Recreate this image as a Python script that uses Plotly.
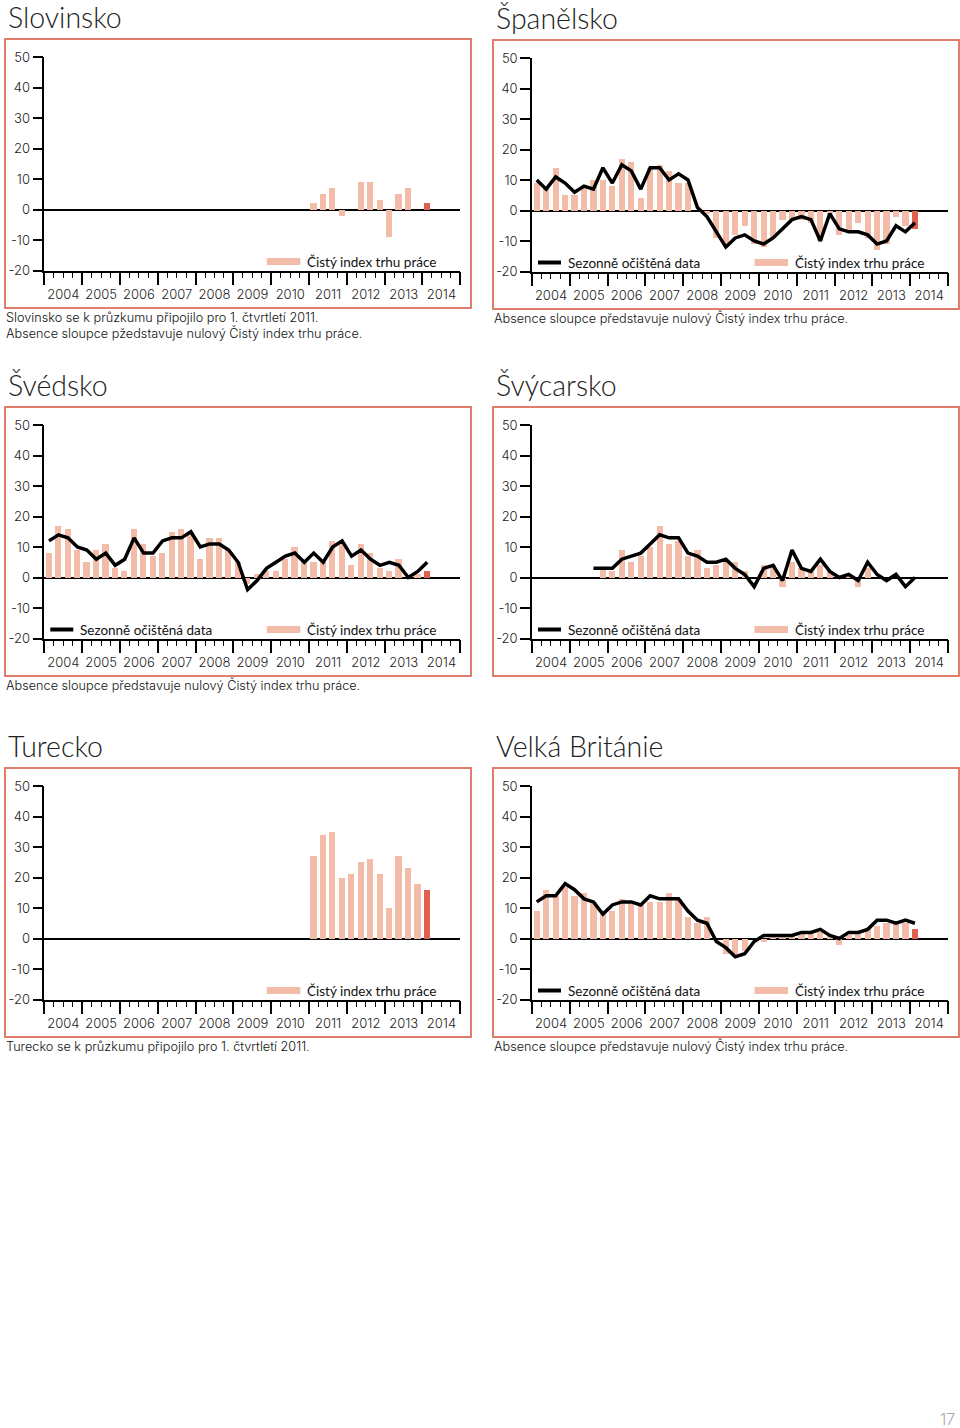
import plotly.graph_objects as go

W, H = 960, 1428

# ---------------- data (quarters 2004Q1 .. 2014Q1) ----------------
YEARS = ["2004", "2005", "2006", "2007", "2008", "2009", "2010", "2011", "2012", "2013", "2014"]
Y_TICKS = [-20, -10, 0, 10, 20, 30, 40, 50]
Y_TICK_TEXT = ["-20", "-10", "0", "10", "20", "30", "40", "50"]
N_Q = 41  # number of quarters with data: 2004Q1 .. 2014Q1

N = None
slovinsko_bars = [N]*28 + [2, 5, 7, -2, 0, 9, 9, 3, -9, 5, 7, 0, 2]

spanelsko_bars = [9, 8, 14, 5, 5, 8, 10, 10, 8, 17, 16, 4, 14, 15, 13, 9, 9, 0, -1, -9,
                  -12, -8, -5, -11, -12, -9, -3, -3, -3, -4, -10, -1, -8, -7, -4, -9,
                  -13, -11, -2, -5, -6]
spanelsko_line = [10, 7, 11, 9, 6, 8, 7, 14, 9, 15, 13, 7, 14, 14, 10, 12, 10, 1, -2, -7,
                  -12, -9, -8, -10, -11, -9, -6, -3, -2, -3, -10, -1, -6, -7, -7, -8,
                  -11, -10, -5, -7, -4]

svedsko_bars = [8, 17, 16, 9, 5, 9, 11, 3, 2, 16, 11, 7, 8, 15, 16, 15, 6, 13, 13, 9,
                5, -2, 1, 2, 2, 6, 10, 5, 5, 5, 12, 11, 4, 11, 8, 3, 2, 6, 0, 1, 2]
svedsko_line = [12, 14, 13, 10, 9, 6, 8, 4, 6, 13, 8, 8, 12, 13, 13, 15, 10, 11, 11, 9,
                5, -4, -1, 3, 5, 7, 8, 5, 8, 5, 10, 12, 7, 9, 6, 4, 5, 4, 0, 2, 5]

svycarsko_bars = [N]*6 + [0, 3, 2, 9, 5, 7, 10, 17, 11, 12, 7, 9, 3, 4, 5, 5, 2, 0,
                          4, 4, -3, 5, 3, 2, 4, 2, 0, 1, -3, 3, 0, 0, 0, 0, 0]
svycarsko_line = [N]*6 + [3, 3, 3, 6, 7, 8, 11, 14, 13, 13, 8, 7, 5, 5, 6, 3, 1, -3,
                          3, 4, -1, 9, 3, 2, 6, 2, 0, 1, -1, 5, 1, -1, 1, -3, 0]

turecko_bars = [N]*28 + [27, 34, 35, 20, 21, 25, 26, 21, 10, 27, 23, 18, 16]

vb_bars = [9, 16, 14, 17, 14, 15, 12, 8, 9, 13, 12, 11, 12, 12, 15, 13, 7, 5, 7, 0,
           -5, -6, -4, 0, -1, 1, 1, 1, 2, 2, 2, 1, -2, 1, 2, 3, 4, 5, 5, 5, 3]
vb_line = [12, 14, 14, 18, 16, 13, 12, 8, 11, 12, 12, 11, 14, 13, 13, 13, 9, 6, 5, -1,
           -3, -6, -5, -1, 1, 1, 1, 1, 2, 2, 3, 1, 0, 2, 2, 3, 6, 6, 5, 6, 5]

# ---------------- styling ----------------
LIGHT = "#f3bca8"
DARK = "#e0604f"
BORDER = "#e27d6e"
TXT = "#222222"
LINE_NAME = "Sezonně očištěná data"
BAR_NAME = "Čistý index trhu práce"
NOTE_ZERO = "Absence sloupce představuje nulový Čistý index trhu práce."

panels = [
    dict(title="Slovinsko", left=True, top=57, bars=slovinsko_bars, line=None,
         notes=["Slovinsko se k průzkumu připojilo pro 1. čtvrtletí 2011.",
                "Absence sloupce pžedstavuje nulový Čistý index trhu práce."]),
    dict(title="Španělsko", left=False, top=58, bars=spanelsko_bars, line=spanelsko_line,
         notes=[NOTE_ZERO]),
    dict(title="Švédsko", left=True, top=425, bars=svedsko_bars, line=svedsko_line,
         notes=[NOTE_ZERO]),
    dict(title="Švýcarsko", left=False, top=425, bars=svycarsko_bars, line=svycarsko_line,
         notes=[]),
    dict(title="Turecko", left=True, top=786, bars=turecko_bars, line=None,
         notes=["Turecko se k průzkumu připojilo pro 1. čtvrtletí 2011."]),
    dict(title="Velká Británie", left=False, top=786, bars=vb_bars, line=vb_line,
         notes=[NOTE_ZERO]),
]

PLOT_W = 416
PLOT_H = 213.5

def px(x):
    return x / W

def py(y):
    return 1 - y / H

fig = go.Figure()
shapes = []
annotations = []
layout = {}

xs = [i + 0.5 for i in range(N_Q)]

for k, p in enumerate(panels, start=1):
    ax0 = 44.3 if p["left"] else 532.0
    bx0 = 5 if p["left"] else 493
    top = p["top"]
    suffix = "" if k == 1 else str(k)

    colors = [LIGHT] * (N_Q - 1) + [DARK]
    fig.add_trace(go.Bar(x=xs, y=p["bars"], width=0.66, marker=dict(color=colors, line=dict(width=0)),
                         xaxis="x" + suffix, yaxis="y" + suffix, showlegend=False))
    if p["line"] is not None:
        fig.add_trace(go.Scatter(x=xs, y=p["line"], mode="lines",
                                 line=dict(color="#000000", width=3.5),
                                 xaxis="x" + suffix, yaxis="y" + suffix, showlegend=False))

    layout["xaxis" + suffix] = dict(
        domain=[px(ax0), px(ax0 + PLOT_W)], anchor="y" + suffix, range=[0, 44],
        tickmode="array", tickvals=list(range(0, 45, 4)), ticktext=YEARS + [""],
        ticks="outside", ticklen=13, tickwidth=1.5, tickcolor="#000",
        ticklabelshift=19, ticklabelstandoff=-2, tickangle=0,
        minor=dict(tickmode="linear", tick0=0, dtick=1, ticks="outside", ticklen=6,
                   tickwidth=1.2, tickcolor="#000"),
        showline=True, linecolor="#000", linewidth=1.5,
        showgrid=False, zeroline=False, fixedrange=True,
        tickfont=dict(family="Inter", size=13, color=TXT, weight=300),
    )
    layout["yaxis" + suffix] = dict(
        domain=[py(top + PLOT_H), py(top)], anchor="x" + suffix, range=[-20, 50],
        tickmode="array", tickvals=Y_TICKS, ticktext=Y_TICK_TEXT,
        ticks="outside", ticklen=10, tickwidth=1.5,
        tickcolor="#000", showline=True, linecolor="#000", linewidth=1.5,
        showgrid=False, zeroline=True, zerolinecolor="#000", zerolinewidth=1.5,
        fixedrange=True,
        tickfont=dict(family="Inter", size=13, color=TXT, weight=300),
    )

    # panel border
    btop = top - 18
    shapes.append(dict(type="rect", xref="paper", yref="paper",
                       x0=px(bx0), x1=px(bx0 + 466), y0=py(btop + 269), y1=py(btop),
                       line=dict(color=BORDER, width=2), fillcolor="rgba(0,0,0,0)"))
    # title
    annotations.append(dict(text=p["title"], x=px(bx0 + 1), y=py(btop - 22), xref="paper", yref="paper",
                            xanchor="left", yanchor="middle", showarrow=False,
                            font=dict(family="Lato", size=28.5, color=TXT, weight=300)))
    # legend
    ly = top + 204.5
    if p["line"] is not None:
        shapes.append(dict(type="line", xref="paper", yref="paper",
                           x0=px(ax0 + 6), x1=px(ax0 + 29), y0=py(ly), y1=py(ly),
                           line=dict(color="#000", width=4)))
        annotations.append(dict(text=LINE_NAME, x=px(ax0 + 34), y=py(ly), xref="paper", yref="paper",
                                xanchor="left", yanchor="middle", showarrow=False,
                                font=dict(family="Lato", size=13.5, color="#111")))
    shapes.append(dict(type="line", xref="paper", yref="paper",
                       x0=px(ax0 + 222.5), x1=px(ax0 + 256), y0=py(ly), y1=py(ly),
                       line=dict(color=LIGHT, width=7)))
    annotations.append(dict(text=BAR_NAME, x=px(ax0 + 261), y=py(ly), xref="paper", yref="paper",
                            xanchor="left", yanchor="middle", showarrow=False,
                            font=dict(family="Lato", size=13.5, color="#111")))
    # notes
    for j, note in enumerate(p["notes"]):
        annotations.append(dict(text=note, x=px(bx0 - 1), y=py(btop + 278 + 16 * j), xref="paper", yref="paper",
                                xanchor="left", yanchor="middle", showarrow=False,
                                font=dict(family="Inter", size=12.7, color="#111111", weight=300)))

annotations.append(dict(text="17", x=px(957), y=py(1419), xref="paper", yref="paper",
                        xanchor="right", yanchor="middle", showarrow=False,
                        font=dict(family="Inter", size=16, color="#aaaaaa", weight=300)))

fig.update_layout(
    width=W, height=H, autosize=False,
    margin=dict(l=0, r=0, t=0, b=0, pad=0),
    paper_bgcolor="white", plot_bgcolor="white",
    template="none", showlegend=False, bargap=0,
    shapes=shapes, annotations=annotations,
    **layout,
)

fig.write_html("out.html")
